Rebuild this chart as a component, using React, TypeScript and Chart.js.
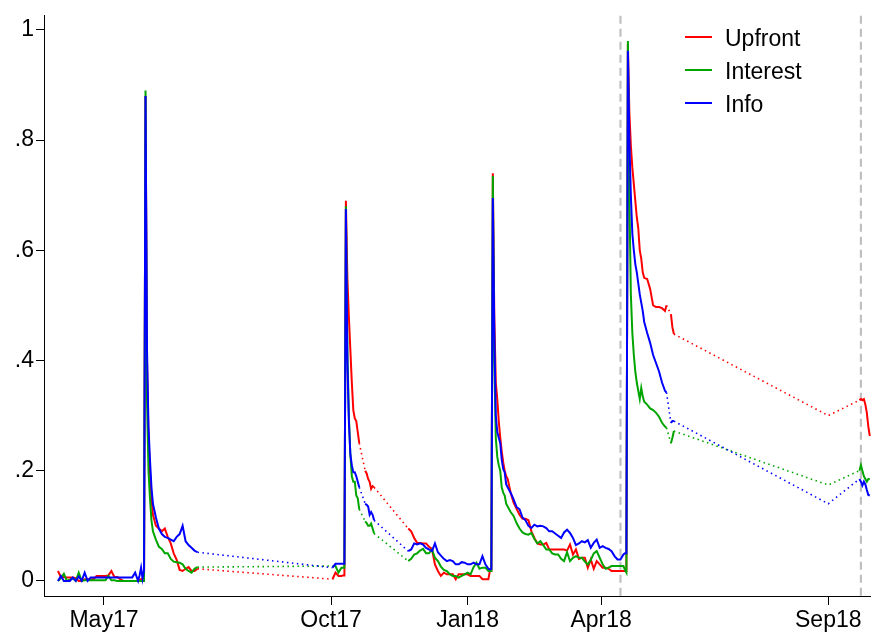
import React, { useEffect, useRef } from "react";
import { Chart, registerables } from "chart.js";

Chart.register(...registerables);

const FONT = "'Liberation Sans', Arial, Helvetica, sans-serif";

// x axis: days since 1 May 2017
const xTickDays = [0, 153, 245, 335, 488];
const xTickLabels = ["May17", "Oct17", "Jan18", "Apr18", "Sep18"];
const yTickValues = [0, 0.2, 0.4, 0.6, 0.8, 1];
const yTickLabels = ["0", ".2", ".4", ".6", ".8", "1"];
const refLineDays = [348, 510];

const seriesNames = ["Upfront", "Interest", "Info"];
const seriesColors = ["rgb(255,0,0)", "rgb(0,165,0)", "rgb(0,0,255)"];

// Segment A (spring 2017)
const daysA = [-31, -29, -27, -25, -23, -21, -19, -17, -15, -13, -11, -9, -7, -5, -3, -1, 1, 3, 5, 7, 9, 11, 13, 15, 17, 19, 21, 23, 24, 25, 26, 27, 28, 29, 30, 31, 32, 33, 35, 37, 39, 41, 43, 45, 47, 49, 51, 53, 55, 57, 59, 61, 63];
const upfrontA = [0.018, 0.007, 0.007, 0.006, 0.006, 0.006, 0.005, 0, 0, 0.003, 0.003, 0.003, 0.003, 0.009, 0.009, 0.009, 0.009, 0.01, 0.018, 0.007, 0.007, 0.003, 0, 0, 0, 0, 0, 0, 0.002, 0.003, 0.005, 0.005, 0.88, 0.4, 0.26, 0.2, 0.15, 0.12, 0.1, 0.095, 0.09, 0.095, 0.08, 0.068, 0.05, 0.038, 0.02, 0.018, 0.022, 0.025, 0.018, 0.018, 0.022];
const interestA = [0, 0.005, 0.013, 0, 0.002, 0.005, 0, 0.015, 0, 0.001, 0.001, 0.001, 0.001, 0.001, 0.001, 0.001, 0.001, 0.009, 0.001, 0.001, 0, 0, 0, 0, 0, 0, 0, 0, 0, 0, 0, 0, 0.89, 0.33, 0.2, 0.15, 0.11, 0.09, 0.075, 0.062, 0.058, 0.05, 0.05, 0.04, 0.035, 0.034, 0.033, 0.03, 0.022, 0.018, 0.015, 0.022, 0.025];
const infoA = [0, 0.009, 0, 0, 0, 0.006, 0, 0.008, 0, 0.015, 0, 0.006, 0.006, 0.006, 0.006, 0.006, 0.006, 0.006, 0.006, 0.006, 0.006, 0.006, 0.006, 0.006, 0.006, 0.006, 0.015, 0, 0.01, 0.024, 0.004, 0.02, 0.88, 0.42, 0.28, 0.22, 0.17, 0.14, 0.115, 0.095, 0.085, 0.08, 0.078, 0.075, 0.072, 0.08, 0.085, 0.1, 0.072, 0.065, 0.06, 0.055, 0.052];

// Segment B (October 2017 wave)
const daysB = [154, 156, 158, 160, 161, 162, 163, 164, 165, 166, 167, 168, 169, 170, 171, 172];
const upfrontB = [0.003, 0.015, 0.009, 0.009, 0.01, 0.01, 0.69, 0.55, 0.48, 0.42, 0.36, 0.31, 0.295, 0.29, 0.27, 0.25];
const interestB = [0.027, 0.027, 0.015, 0.024, 0.024, 0.024, 0.68, 0.42, 0.3, 0.23, 0.19, 0.18, 0.18, 0.155, 0.15, 0.13];
const infoB = [0.024, 0.031, 0.031, 0.031, 0.031, 0.031, 0.675, 0.4, 0.29, 0.23, 0.21, 0.197, 0.197, 0.19, 0.18, 0.17];

// Segment C
const daysC = [176, 177, 178, 179, 180, 181, 182];
const upfrontC = [0.2, 0.195, 0.185, 0.18, 0.167, 0.172, 0.17];
const interestC = [0.108, 0.105, 0.1, 0.1, 0.104, 0.095, 0.086];
const infoC = [0.14, 0.138, 0.135, 0.12, 0.125, 0.12, 0.11];

// Segment D (Nov 2017 - May 2018), split in four parts
const daysD1 = [205, 207, 209, 211, 213, 215, 217, 219, 221, 223, 225, 227, 229, 231, 233, 235, 237, 239, 241, 243, 245, 247, 249, 251, 253, 255, 257, 259, 260, 261];
const upfrontD1 = [0.095, 0.09, 0.078, 0.069, 0.069, 0.068, 0.068, 0.062, 0.058, 0.03, 0.018, 0.009, 0.015, 0.012, 0.012, 0.012, 0.003, 0.012, 0.012, 0.012, 0.012, 0.009, 0.009, 0.009, 0.009, 0.003, 0.003, 0.003, 0.018, 0.018];
const interestD1 = [0.036, 0.04, 0.048, 0.05, 0.055, 0.058, 0.05, 0.05, 0.057, 0.042, 0.036, 0.026, 0.02, 0.018, 0.012, 0.009, 0.009, 0.006, 0.009, 0.012, 0.015, 0.012, 0.025, 0.033, 0.022, 0.024, 0.024, 0.018, 0.018, 0.018];
const infoD1 = [0.054, 0.057, 0.068, 0.066, 0.068, 0.066, 0.06, 0.057, 0.054, 0.068, 0.052, 0.046, 0.04, 0.036, 0.038, 0.036, 0.03, 0.03, 0.034, 0.033, 0.03, 0.03, 0.033, 0.03, 0.03, 0.045, 0.03, 0.022, 0.021, 0.022];

const daysD2 = [262, 263, 264, 265, 266, 267, 268, 269, 270, 271];
const upfrontD2 = [0.74, 0.48, 0.36, 0.33, 0.29, 0.26, 0.235, 0.215, 0.2, 0.19];
const interestD2 = [0.735, 0.4, 0.26, 0.225, 0.21, 0.2, 0.17, 0.16, 0.155, 0.14];
const infoD2 = [0.695, 0.45, 0.3, 0.27, 0.26, 0.25, 0.22, 0.203, 0.197, 0.175];

const daysD3 = [272, 274, 276, 278, 280, 282, 284, 286, 288, 290, 292, 294, 296, 298, 300, 302, 304, 306, 308, 310, 312, 314, 316, 318, 320, 322, 324, 326, 328, 330, 332, 334, 336, 338, 340, 342, 344, 346, 348, 350, 351, 352];
const upfrontD3 = [0.185, 0.16, 0.142, 0.131, 0.12, 0.113, 0.113, 0.11, 0.09, 0.078, 0.068, 0.066, 0.066, 0.069, 0.057, 0.057, 0.057, 0.057, 0.057, 0.057, 0.055, 0.066, 0.048, 0.057, 0.04, 0.042, 0.042, 0.024, 0.039, 0.022, 0.036, 0.03, 0.024, 0.024, 0.022, 0.018, 0.018, 0.018, 0.018, 0.018, 0.018, 0.018];
const interestD3 = [0.135, 0.125, 0.118, 0.105, 0.095, 0.088, 0.085, 0.084, 0.087, 0.076, 0.068, 0.072, 0.065, 0.057, 0.057, 0.05, 0.048, 0.048, 0.04, 0.036, 0.052, 0.036, 0.042, 0.045, 0.042, 0.042, 0.035, 0.03, 0.038, 0.05, 0.054, 0.042, 0.03, 0.022, 0.024, 0.027, 0.027, 0.027, 0.027, 0.027, 0.02, 0.015];
const infoD3 = [0.17, 0.16, 0.148, 0.134, 0.13, 0.115, 0.11, 0.1, 0.096, 0.102, 0.099, 0.1, 0.099, 0.096, 0.09, 0.09, 0.086, 0.082, 0.078, 0.088, 0.093, 0.087, 0.078, 0.065, 0.068, 0.072, 0.07, 0.074, 0.06, 0.069, 0.075, 0.06, 0.063, 0.06, 0.058, 0.054, 0.045, 0.039, 0.039, 0.048, 0.05, 0.05];

const daysD4 = [353, 354, 355, 356, 357, 358, 359, 360, 361, 362, 363, 364, 366, 368, 370, 372, 374, 376, 378, 379];
const upfrontD4 = [0.975, 0.85, 0.79, 0.75, 0.72, 0.69, 0.66, 0.64, 0.6, 0.585, 0.56, 0.55, 0.548, 0.53, 0.5, 0.497, 0.497, 0.495, 0.49, 0.5];
const interestD4 = [0.98, 0.7, 0.52, 0.45, 0.41, 0.38, 0.36, 0.345, 0.33, 0.35, 0.335, 0.325, 0.32, 0.313, 0.31, 0.305, 0.298, 0.287, 0.28, 0.278];
const infoD4 = [0.962, 0.8, 0.7, 0.63, 0.6, 0.575, 0.56, 0.54, 0.52, 0.505, 0.49, 0.47, 0.45, 0.432, 0.41, 0.395, 0.38, 0.36, 0.345, 0.342];

// Segment E
const daysE = [382, 383, 384];
const upfrontE = [0.484, 0.46, 0.448];
const interestE = [0.25, 0.26, 0.272];
const infoE = [0.287, 0.29, 0.29];

// Segment G (single day, 1 Sep 2018)
const daysG = [488];
const upfrontG = [0.3];
const interestG = [0.174];
const infoG = [0.14];

// Segment F (late Sep 2018)
const daysF = [509, 510, 511, 512, 513, 514, 515, 516];
const upfrontF = [0.328, 0.33, 0.328, 0.33, 0.32, 0.305, 0.28, 0.263];
const interestF = [0.2, 0.21, 0.2, 0.19, 0.185, 0.18, 0.185, 0.185];
const infoF = [0.185, 0.18, 0.173, 0.18, 0.175, 0.165, 0.156, 0.155];

const blocks = [
  { seg: 0, days: daysA, values: [upfrontA, interestA, infoA] },
  { seg: 1, days: daysB, values: [upfrontB, interestB, infoB] },
  { seg: 2, days: daysC, values: [upfrontC, interestC, infoC] },
  { seg: 3, days: daysD1, values: [upfrontD1, interestD1, infoD1] },
  { seg: 3, days: daysD2, values: [upfrontD2, interestD2, infoD2] },
  { seg: 3, days: daysD3, values: [upfrontD3, interestD3, infoD3] },
  { seg: 3, days: daysD4, values: [upfrontD4, interestD4, infoD4] },
  { seg: 4, days: daysE, values: [upfrontE, interestE, infoE] },
  { seg: 5, days: daysG, values: [upfrontG, interestG, infoG] },
  { seg: 6, days: daysF, values: [upfrontF, interestF, infoF] },
];

const segIds: number[] = blocks.flatMap((b) => b.days.map(() => b.seg));

function seriesPoints(s: number) {
  return blocks.flatMap((b) => b.days.map((d, i) => ({ x: d, y: b.values[s][i] })));
}

const refLinesPlugin = {
  id: "refLines",
  beforeDatasetsDraw(chart: any) {
    const { ctx, chartArea, scales } = chart;
    ctx.save();
    ctx.strokeStyle = "rgb(192,192,192)";
    ctx.lineWidth = 2.2;
    ctx.setLineDash([8, 5]);
    refLineDays.forEach((d) => {
      const x = scales.x.getPixelForValue(d);
      ctx.beginPath();
      ctx.moveTo(x, chartArea.top);
      ctx.lineTo(x, chartArea.bottom);
      ctx.stroke();
    });
    ctx.restore();
  },
};

const legendPlugin = {
  id: "customLegend",
  afterDraw(chart: any) {
    const { ctx } = chart;
    ctx.save();
    seriesNames.forEach((name, i) => {
      const y = 37 + i * 33;
      ctx.setLineDash([]);
      ctx.strokeStyle = seriesColors[i];
      ctx.lineWidth = 2;
      ctx.beginPath();
      ctx.moveTo(685, y);
      ctx.lineTo(712, y);
      ctx.stroke();
      ctx.fillStyle = "#000";
      ctx.font = `23px ${FONT}`;
      ctx.textBaseline = "alphabetic";
      ctx.textAlign = "left";
      ctx.fillText(name, 725, y + 9);
    });
    ctx.restore();
  },
};

export default function App() {
  const ref = useRef<HTMLCanvasElement>(null);

  useEffect(() => {
    const canvas = ref.current;
    if (!canvas) return;
    const order = [3, 2, 1];
    const chart = new Chart(canvas, {
      type: "line",
      data: {
        datasets: seriesNames.map((name, s) => ({
          label: name,
          data: seriesPoints(s),
          borderColor: seriesColors[s],
          backgroundColor: seriesColors[s],
          borderWidth: 2,
          pointRadius: 0,
          tension: 0,
          fill: false,
          order: order[s],
          segment: {
            borderDash: (ctx: any) =>
              segIds[ctx.p0DataIndex] !== segIds[ctx.p1DataIndex] ? [1.5, 3.5] : undefined,
            borderWidth: (ctx: any) =>
              segIds[ctx.p0DataIndex] !== segIds[ctx.p1DataIndex] ? 1.6 : undefined,
          },
        })),
      },
      options: {
        animation: false,
        responsive: false,
        maintainAspectRatio: false,
        layout: { padding: { top: 8, right: 0, left: 0, bottom: 0 } },
        plugins: { legend: { display: false }, tooltip: { enabled: false } },
        scales: {
          x: {
            type: "linear",
            min: -40.4,
            max: 516.8,
            afterBuildTicks: (scale: any) => {
              scale.ticks = xTickDays.map((v) => ({ value: v }));
            },
            afterFit: (scale: any) => {
              scale.height = 36;
            },
            ticks: {
              autoSkip: false,
              maxRotation: 0,
              color: "#000",
              padding: 2,
              font: { family: FONT, size: 23 },
              callback: (_v: any, i: number) => xTickLabels[i],
            },
            grid: { drawOnChartArea: false, drawTicks: true, tickLength: 9, color: "#000", lineWidth: 1 },
            border: { display: true, color: "#000", width: 1 },
          },
          y: {
            type: "linear",
            min: -0.0274,
            max: 1.0256,
            afterBuildTicks: (scale: any) => {
              scale.ticks = yTickValues.map((v) => ({ value: v }));
            },
            afterFit: (scale: any) => {
              scale.width = 44;
            },
            ticks: {
              autoSkip: false,
              color: "#000",
              padding: 2,
              font: { family: FONT, size: 23 },
              callback: (_v: any, i: number) => yTickLabels[i],
            },
            grid: { drawOnChartArea: false, drawTicks: true, tickLength: 8, color: "#000", lineWidth: 1 },
            border: { display: true, color: "#000", width: 1 },
          },
        },
      },
      plugins: [refLinesPlugin, legendPlugin],
    } as any);
    return () => chart.destroy();
  }, []);

  return (
    <div style={{ position: "absolute", left: 0, top: 0, width: 871, height: 632, background: "#fff" }}>
      <canvas ref={ref} width={871} height={632} style={{ display: "block", width: 871, height: 632 }} />
    </div>
  );
}
